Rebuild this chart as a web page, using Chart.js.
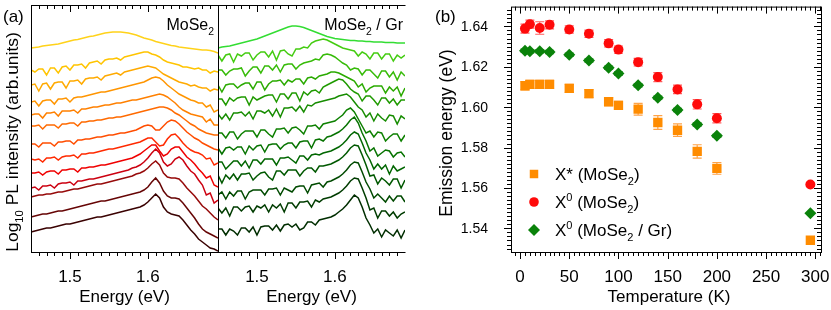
<!DOCTYPE html>
<html>
<head>
<meta charset="utf-8">
<script src="https://cdn.jsdelivr.net/npm/chart.js@4.4.1/dist/chart.umd.min.js"></script>
<style>
  html, body { margin: 0; padding: 0; background: #fff; }
  #wrap { position: relative; width: 831px; height: 310px; }
  #wrap canvas { position: absolute; left: 0; top: 0; }
</style>
</head>
<body>
<div id="wrap">
  <canvas id="specBare" width="831" height="310"></canvas>
  <canvas id="specGr" width="831" height="310"></canvas>
  <canvas id="peaks" width="831" height="310"></canvas>
</div>
<script>
// ---- panel (a): PL spectra, offset log intensity (arb. units), top curve = highest T
const energy = [1.450,1.455,1.460,1.465,1.470,1.475,1.480,1.485,1.490,1.495,1.500,1.505,1.510,1.515,1.520,1.525,1.530,1.535,1.540,1.545,1.550,1.555,1.560,1.565,1.570,1.575,1.580,1.585,1.590,1.595,1.600,1.605,1.610,1.615,1.620,1.625,1.630,1.635,1.640,1.645,1.650,1.655,1.660,1.665,1.670,1.675,1.680,1.685,1.690];

// MoSe2
const bare01 = [205,205.5,206,207,207.5,208,208.5,209,210,211,212,213,213.5,214.5,215.5,216.5,217,218,219,220,220.5,221,221,221,220.5,220,219,218,216.5,215,214,213,211.5,210.5,209.5,208.5,207.5,207,206,205.5,205,204.5,204,203.5,203,203,202.5,201.5,200];
const bare02 = [183,181,184,184,178,185,185,180,186,187,183,188,188,189,185,190,191,192,189,193,194,194,195,193,196,197,198,199,200,201,201,199,198,196,193,191,190,189,188,186,186,185,184,185,183,183,180,182,181];
const bare03 = [168,169,162,169,170,164,170,171,171,165,172,172,173,169,174,175,175,176,173,177,178,179,180,178,181,182,183,184,185,186,187,186,185,182,179,177,175,173,171,170,169,167,168,166,165,165,162,164,163];
const bare04 = [151,152,147,152,153,153,149,154,154,155,151,155,156,156,157,158,159,160,161,161,162,163,164,165,166,167,168,169,170,171,173,175,176,175,172,168,165,162,159,157,155,153,152,150,150,146,148,141,143];
const bare05 = [138,139,139,135,140,140,141,137,142,142,142,143,140,144,144,145,146,146,147,148,148,149,150,150,151,152,153,153,154,155,156,157,158,159,158,156,153,150,146,143,141,139,138,137,136,131,134,128,128];
const bare06 = [127,127,128,124,128,128,128,125,129,129,130,130,127,131,131,132,132,133,133,134,135,135,136,136,137,138,139,140,141,142,143,144,145,146,146,145,143,140,138,135,132,129,127,124,122,120,119,118,118];
const bare07 = [109,109,106,110,110,110,107,111,111,112,112,109,113,113,114,114,115,116,116,117,118,118,119,120,120,121,122,123,125,127,128,127,123,123,127,131,133,132,129,125,121,118,115,113,110,108,106,104,103];
const bare08 = [94,93,94,91,95,95,96,93,96,97,97,98,95,99,99,100,100,101,102,103,104,104,105,106,107,108,109,110,111,113,115,115,111,107,108,114,118,119,115,110,106,103,101,100,98,94,95,88,90];
const bare09 = [80,80,81,78,81,82,82,79,83,83,84,84,81,85,85,86,86,87,88,88,89,90,91,92,93,94,95,97,99,102,105,108,108,102,97,99,104,106,106,101,96,93,89,84,80,75,77,68,66];
const bare10 = [65,66,63,67,67,68,65,69,70,70,71,68,72,72,73,74,74,75,76,77,78,79,80,81,82,83,85,86,88,91,95,100,104,100,91,87,89,94,96,93,87,82,79,73,68,58,60,50,53];
const bare11 = [56,57,58,58,59,59,60,61,61,62,63,64,64,65,66,67,68,69,69,70,71,72,73,74,75,76,77,79,80,82,85,89,92,88,80,76,75,75,74,70,65,61,57,52,47,44,40,36,33];
const bare12 = [36,37,38,39,39,40,41,42,42,43,44,45,46,47,48,49,50,51,52,52,53,54,55,56,57,58,59,60,61,63,66,71,75,70,62,57,55,55,54,50,45,40,35,29,24,21,19,17,15];
const bare13 = [21,22,23,24,25,25,26,27,28,29,29,30,31,32,33,34,35,36,36,37,38,39,40,41,42,43,44,45,46,48,51,55,59,55,46,41,39,38,37,33,28,23,19,14,11,8,5,4,2];

// MoSe2 / Gr
const gr01 = [205,206,206.5,207,208,209,210,211,212,213,214,215.5,217,218.5,220,221.5,223,224.5,226,227,227,226.5,225.5,224,222.5,221,219.5,218,216.5,215.5,214.5,214,213.5,213,212.5,212.5,212,212,211.5,211.5,211,211,211,210.5,210.5,210.5,210,210,210];
const gr02 = [198,192,198,199,191,199,197,200,200,193,198,201,201,196,202,193,202,203,199,197,204,204,206,205,210,212,213,214,213,211,209,207,205,204,203,202,197,201,199,194,200,200,194,199,199,192,198,195,198];
const gr03 = [183,183,178,182,184,184,185,177,182,186,186,180,187,187,183,188,181,188,189,189,184,188,190,191,192,194,193,198,199,198,196,193,190,188,183,185,184,178,183,183,179,175,182,182,176,181,173,181,177];
const gr04 = [168,161,168,169,169,165,168,170,170,164,171,171,163,169,172,172,173,168,173,171,174,174,169,175,176,174,177,178,179,181,181,180,178,176,174,172,166,169,161,165,167,167,167,160,166,162,166,157,165];
const gr05 = [154,154,148,155,152,155,156,156,148,156,153,155,157,158,158,151,159,159,154,160,160,152,161,158,162,163,160,166,168,170,172,174,173,169,164,161,159,152,157,157,153,148,155,155,150,154,148,153,153];
const gr06 = [139,134,139,133,140,140,141,137,141,134,142,142,140,143,137,144,136,145,145,146,142,147,141,148,147,150,151,152,153,154,155,157,158,159,156,151,146,143,136,140,132,139,135,132,138,137,129,137,134];
const gr07 = [120,120,115,121,121,114,119,122,122,122,116,123,123,119,116,124,124,125,120,125,126,123,119,127,127,128,124,129,130,131,132,135,138,143,145,141,134,127,120,122,116,121,120,112,116,119,119,112,118];
const gr08 = [105,99,105,106,103,106,106,99,107,103,107,108,101,108,109,109,104,108,110,110,105,111,112,112,105,113,114,112,116,117,119,121,124,128,133,136,130,120,112,102,105,97,100,103,102,96,100,101,96];
const gr09 = [91,91,84,88,92,92,87,92,85,93,93,89,94,94,94,88,95,95,96,93,90,97,97,93,98,99,98,100,101,102,104,106,109,113,118,121,119,110,100,93,84,89,84,88,79,87,82,84,86];
const gr10 = [78,70,78,74,79,73,79,79,80,73,77,80,81,76,73,82,82,78,83,83,83,77,82,85,85,81,87,87,88,89,91,93,96,100,105,108,107,98,88,77,78,69,75,72,68,74,74,65,73];
const gr11 = [58,61,54,61,57,62,62,54,61,63,63,63,58,64,64,65,58,65,63,61,66,67,67,60,68,69,70,66,71,72,74,76,79,83,88,91,90,81,71,64,55,59,55,51,57,52,57,57,51];
const gr12 = [45,40,45,37,46,46,42,46,47,41,47,45,48,41,48,45,49,41,50,50,45,51,51,52,46,53,51,54,55,56,58,60,63,67,72,75,74,65,55,43,45,35,42,42,37,41,35,39,41];
const gr13 = [24,24,18,24,22,18,25,25,21,26,18,26,27,27,23,28,22,28,29,26,29,23,25,31,31,28,33,34,35,36,38,41,44,48,53,58,55,46,35,28,20,24,16,23,20,17,23,15,23];

const bareColors = ['#ffd21a','#ffc400','#ffaa00','#ff9500','#ff8000','#ff6a00','#ff4d00','#ff2a00','#f00000','#cc0010','#960a0a','#660505','#3a0202'];
const grColors = ['#33dd33','#44cc11','#36bb08','#2aaa00','#1f9a00','#168c00','#0d8000','#067300','#006600','#005800','#004a00','#003c00','#002e00'];

// ---- panel (b): emission energy vs temperature
const temps = [5,10,20,30,50,70,90,100,120,140,160,180,200,295];
const eXstar = [1.6106,1.6113,1.6113,1.6113,1.6093,1.6067,1.6027,1.6009,1.5990,1.5924,1.5886,1.5781,1.5697,1.5341];
const eX0 = [1.6389,1.6411,1.6392,1.6408,1.6385,1.6364,1.6316,1.6285,1.6223,1.6149,1.6088,1.6014,1.5945,1.5617];
const eX0Gr = [1.6280,1.6277,1.6277,1.6273,1.6260,1.6231,1.6195,1.6167,1.6108,1.6047,1.5986,1.5914,1.5858,1.5475];
const errXstar = [0.002,0.002,0.002,0.002,0.002,0.002,0.002,0.002,0.0029,0.0034,0.0031,0.0033,0.0029,0];
const errX0 = [0.0022,0.002,0.0031,0.002,0.0018,0.0018,0.0018,0.0018,0.0019,0.0022,0.0021,0.0023,0.0023,0];
const errX0Gr = [0.0008,0.0008,0.0008,0.0008,0.0008,0.0008,0.0008,0.0008,0.0008,0.0008,0.0008,0.0008,0.0008,0];

const FONT = '"Liberation Sans", Arial, Helvetica, sans-serif';

// text with sub (1) / superscript (2) pieces
function drawRich(ctx, parts, x, y, size, align, rot) {
  const runs = parts.map(p => {
    const s = p[1] ? size * 0.65 : size;
    ctx.font = s + 'px ' + FONT;
    return { t: p[0], s, w: ctx.measureText(p[0]).width, dy: p[1] === 1 ? size * 0.3 : p[1] === 2 ? -size * 0.4 : 0 };
  });
  const total = runs.reduce((a, r) => a + r.w, 0);
  ctx.save();
  ctx.translate(x, y);
  if (rot) ctx.rotate(rot);
  let cx = align === 'center' ? -total / 2 : align === 'right' ? -total : 0;
  ctx.textAlign = 'left';
  ctx.textBaseline = 'alphabetic';
  ctx.fillStyle = '#000';
  runs.forEach(r => { ctx.font = r.s + 'px ' + FONT; ctx.fillText(r.t, cx, r.dy); cx += r.w; });
  ctx.restore();
}

function marker(ctx, style, x, y, r, color) {
  ctx.fillStyle = color;
  ctx.beginPath();
  if (style === 'rect') {
    const s = r * Math.SQRT1_2;
    ctx.rect(x - s, y - s, 2 * s, 2 * s);
  } else if (style === 'rectRot') {
    ctx.moveTo(x, y - r); ctx.lineTo(x + r, y); ctx.lineTo(x, y + r); ctx.lineTo(x - r, y); ctx.closePath();
  } else {
    ctx.arc(x, y, r, 0, Math.PI * 2);
  }
  ctx.fill();
}

function spectraFrame(label, labelX, rightLine) {
  return {
    id: 'spectraFrame',
    afterDraw(chart) {
      const { ctx, chartArea: a, scales: { x } } = chart;
      ctx.save();
      ctx.strokeStyle = '#000';
      ctx.lineWidth = 1;
      ctx.beginPath();
      ctx.moveTo(a.left + 0.5, a.top + 0.5); ctx.lineTo(a.right + 0.5, a.top + 0.5);
      ctx.moveTo(a.left + 0.5, a.bottom + 0.5); ctx.lineTo(a.right + 0.5, a.bottom + 0.5);
      ctx.moveTo(a.left + 0.5, a.top); ctx.lineTo(a.left + 0.5, a.bottom + 1);
      if (rightLine) { ctx.moveTo(a.right + 0.5, a.top); ctx.lineTo(a.right + 0.5, a.bottom + 1); }
      for (let i = 146; i <= 168; i++) {
        const px = Math.round(x.getPixelForValue(i / 100)) + 0.5;
        const len = i % 10 === 0 ? 7 : 4;
        ctx.moveTo(px, a.bottom); ctx.lineTo(px, a.bottom + len);
        ctx.moveTo(px, a.top); ctx.lineTo(px, a.top + len);
      }
      ctx.stroke();
      ctx.fillStyle = '#000';
      ctx.font = '17px ' + FONT;
      ctx.textAlign = 'center';
      ctx.textBaseline = 'alphabetic';
      ['1.5', '1.6'].forEach(t => ctx.fillText(t, x.getPixelForValue(+t), 281.5));
      ctx.restore();
      drawRich(ctx, [['Energy (eV)']], (a.left + a.right) / 2, 302, 17, 'center');
      drawRich(ctx, label, labelX, 30, 16, 'right');
    }
  };
}

function spectraChart(id, spectra, colors, padLeft, padRight, frame) {
  return new Chart(document.getElementById(id), {
    type: 'line',
    data: {
      datasets: spectra.map((s, i) => ({
        data: s.map((v, j) => ({ x: energy[j], y: v })),
        borderColor: colors[i],
        borderWidth: 1.5,
        pointRadius: 0,
        tension: 0,
        fill: false
      }))
    },
    options: {
      responsive: false,
      animation: false,
      events: [],
      layout: { padding: { left: padLeft, right: padRight, top: 5, bottom: 58 } },
      plugins: { legend: { display: false }, tooltip: { enabled: false } },
      scales: {
        x: { type: 'linear', min: 1.45, max: 1.69, display: false },
        y: { type: 'linear', min: 1, max: 248, display: false }
      }
    },
    plugins: [frame]
  });
}

const bareFrame = spectraFrame([['MoSe'], ['2', 1]], 214, true);
const bareChart = spectraChart('specBare',
  [bare01, bare02, bare03, bare04, bare05, bare06, bare07, bare08, bare09, bare10, bare11, bare12, bare13],
  bareColors, 31, 831 - 218, {
    id: 'bareFrame',
    afterDraw(chart) {
      bareFrame.afterDraw(chart);
      drawRich(chart.ctx, [['(a)']], 3, 22, 17, 'left');
      drawRich(chart.ctx, [['Log'], ['10', 1], [' PL intensity (arb.units)']], 18, 142, 17.4, 'center', -Math.PI / 2);
    }
  });

const grChart = spectraChart('specGr',
  [gr01, gr02, gr03, gr04, gr05, gr06, gr07, gr08, gr09, gr10, gr11, gr12, gr13],
  grColors, 218, 831 - 405, spectraFrame([['MoSe'], ['2', 1], [' / Gr']], 403, false));

// error bars for panel (b)
const errorBars = {
  id: 'errorBars',
  beforeDatasetsDraw(chart) {
    const { ctx, scales: { x, y } } = chart;
    ctx.save();
    [[eXstar, errXstar, '#ffa347'], [eX0, errX0, '#ff5c5c'], [eX0Gr, errX0Gr, '#3a9a3a']].forEach(([vals, errs, col]) => {
      ctx.strokeStyle = col;
      ctx.lineWidth = 1.2;
      ctx.beginPath();
      temps.forEach((t, i) => {
        if (!errs[i]) return;
        const px = x.getPixelForValue(t);
        const y1 = y.getPixelForValue(vals[i] + errs[i]);
        const y2 = y.getPixelForValue(vals[i] - errs[i]);
        ctx.moveTo(px, y1); ctx.lineTo(px, y2);
        ctx.moveTo(px - 4.5, y1); ctx.lineTo(px + 4.5, y1);
        ctx.moveTo(px - 4.5, y2); ctx.lineTo(px + 4.5, y2);
      });
      ctx.stroke();
    });
    ctx.restore();
  }
};

const peaksFrame = {
  id: 'peaksFrame',
  afterDraw(chart) {
    const { ctx, chartArea: a, scales: { x, y } } = chart;
    ctx.save();
    ctx.strokeStyle = '#000';
    ctx.lineWidth = 1;
    ctx.strokeRect(a.left + 0.5, a.top + 0.5, a.right - a.left, a.bottom - a.top);
    ctx.beginPath();
    for (let t = -5; t <= 305; t += 5) {
      const px = Math.round(x.getPixelForValue(t)) + 0.5;
      const len = t % 50 === 0 ? 7 : 4;
      ctx.moveTo(px, a.bottom); ctx.lineTo(px, a.bottom + len);
      ctx.moveTo(px, a.top); ctx.lineTo(px, a.top + len);
    }
    for (let k = 765; k <= 824; k++) {
      const v = k * 0.002;
      const py = Math.round(y.getPixelForValue(v)) + 0.5;
      const len = k % 10 === 0 ? 7 : 4;
      ctx.moveTo(a.left, py); ctx.lineTo(a.left - len, py);
      ctx.moveTo(a.right, py); ctx.lineTo(a.right - len, py);
    }
    ctx.stroke();
    ctx.fillStyle = '#000';
    ctx.font = '17px ' + FONT;
    ctx.textAlign = 'center';
    ctx.textBaseline = 'alphabetic';
    for (let t = 0; t <= 300; t += 50) ctx.fillText(String(t), x.getPixelForValue(t), 282);
    ctx.font = '14px ' + FONT;
    ctx.textAlign = 'right';
    ctx.textBaseline = 'middle';
    ['1.54', '1.56', '1.58', '1.60', '1.62', '1.64'].forEach(t => ctx.fillText(t, 488, y.getPixelForValue(+t) + 0.5));
    ctx.restore();

    drawRich(ctx, [['Temperature (K)']], (a.left + a.right) / 2 + 3, 302, 17, 'center');
    drawRich(ctx, [['Emission energy (eV)']], 451.5, 133, 17.5, 'center', -Math.PI / 2);
    drawRich(ctx, [['(b)']], 435, 22, 17, 'left');

    // legend
    const rows = [
      ['rect', 6, '#ff8c00', [['X* (MoSe'], ['2', 1], [')']], 174],
      ['circle', 4.8, '#ff0a0a', [['X'], ['0', 2], [' (MoSe'], ['2', 1], [')']], 202],
      ['rectRot', 6, '#0a820a', [['X'], ['0', 2], [' (MoSe'], ['2', 1], [' / Gr)']], 230]
    ];
    rows.forEach(([st, r, col, txt, yy]) => {
      marker(ctx, st, 534, yy, r, col);
      drawRich(ctx, txt, 555, yy + 6, 17, 'left');
    });
  }
};

const peaksChart = new Chart(document.getElementById('peaks'), {
  type: 'scatter',
  data: {
    datasets: [
      { label: 'X* (MoSe2)', data: temps.map((t, i) => ({ x: t, y: eXstar[i] })), pointStyle: 'rect', pointRadius: 6.6, backgroundColor: '#ff8c00', borderColor: '#ff8c00', borderWidth: 0 },
      { label: 'X0 (MoSe2)', data: temps.map((t, i) => ({ x: t, y: eX0[i] })), pointStyle: 'circle', pointRadius: 5, backgroundColor: '#ff0a0a', borderColor: '#ff0a0a', borderWidth: 0 },
      { label: 'X0 (MoSe2 / Gr)', data: temps.map((t, i) => ({ x: t, y: eX0Gr[i] })), pointStyle: 'rectRot', pointRadius: 6, backgroundColor: '#0a820a', borderColor: '#0a820a', borderWidth: 0 }
    ]
  },
  options: {
    responsive: false,
    animation: false,
    events: [],
    layout: { padding: { left: 511, right: 10, top: 5, bottom: 58 } },
    plugins: { legend: { display: false }, tooltip: { enabled: false } },
    scales: {
      x: { type: 'linear', min: -9.2, max: 305.8, display: false },
      y: { type: 'linear', min: 1.5283, max: 1.6498, display: false }
    }
  },
  plugins: [errorBars, peaksFrame]
});
</script>
</body>
</html>
